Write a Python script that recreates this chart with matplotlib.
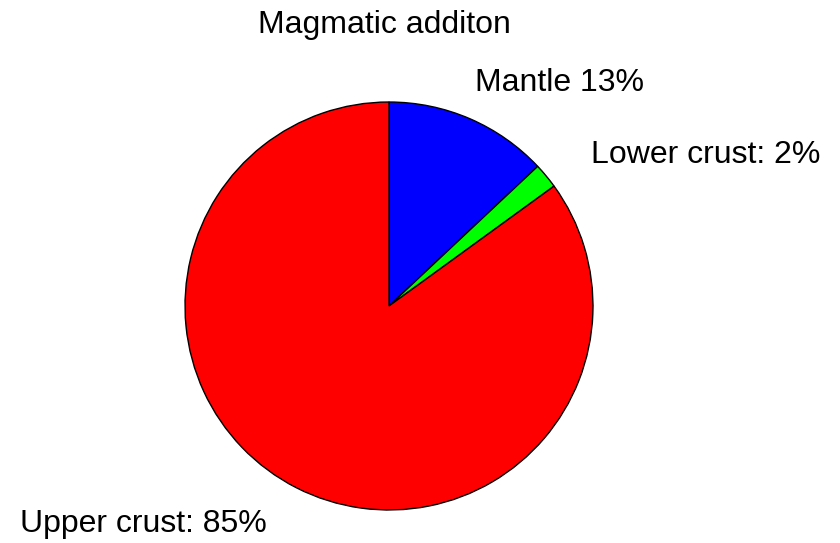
import matplotlib
matplotlib.use("Agg")
import matplotlib.pyplot as plt

# data
labels = ["Mantle", "Lower crust", "Upper crust"]
shares = [13, 2, 85]
colors = ["#0000ff", "#00ff00", "#ff0000"]

plt.rcParams['font.family'] = ['Liberation Sans', 'DejaVu Sans']

fig = plt.figure(figsize=(8.4, 5.43), dpi=100)
ax = fig.add_axes([184 / 840, 1 - 511 / 543, 410 / 840, 410 / 543])
ax.pie(shares, colors=colors, startangle=90, counterclock=False,
       wedgeprops=dict(edgecolor="black", linewidth=1.0))
ax.set_xlim(-1.005, 1.005)
ax.set_ylim(-1.005, 1.005)
ax.set_aspect("equal")

fs = 23
fig.text(258 / 840, 1 - 33 / 543, "Magmatic additon", ha="left", va="baseline", fontsize=fs)
fig.text(475 / 840, 1 - 91 / 543, f"{labels[0]} {shares[0]}%", ha="left", va="baseline", fontsize=fs)
fig.text(591 / 840, 1 - 163 / 543, f"{labels[1]}: {shares[1]}%", ha="left", va="baseline", fontsize=fs)
fig.text(20 / 840, 1 - 532 / 543, f"{labels[2]}: {shares[2]}%", ha="left", va="baseline", fontsize=fs)

fig.savefig("out.png", dpi=100)
